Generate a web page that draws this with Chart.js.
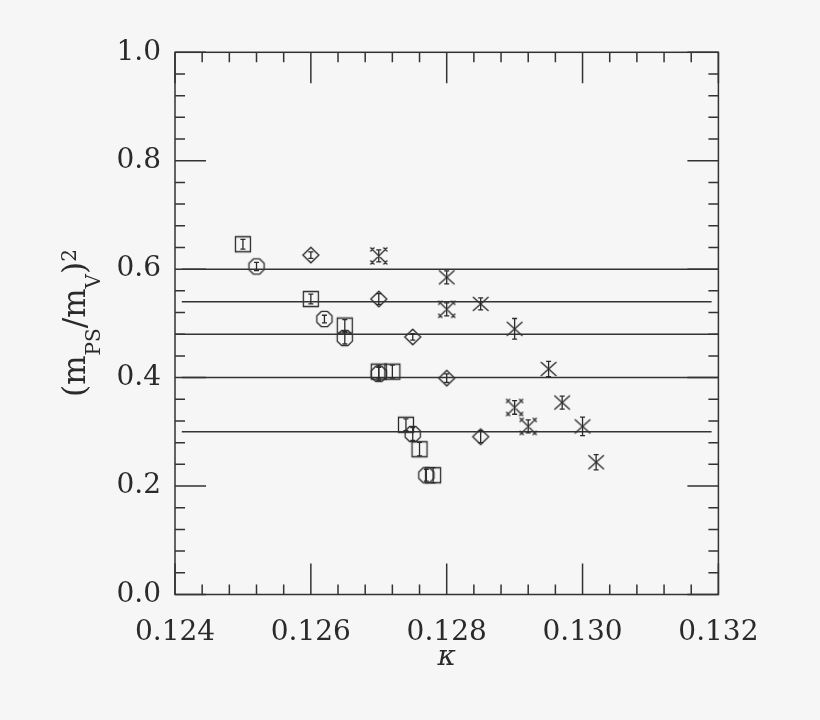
<!DOCTYPE html>
<html>
<head>
<meta charset="utf-8">
<script src="https://cdn.jsdelivr.net/npm/chart.js@4.4.0/dist/chart.umd.min.js"></script>
<style>
  html, body { margin: 0; padding: 0; background: #f6f6f6; }
  canvas { display: block; }
</style>
</head>
<body>
<canvas id="c" width="820" height="720"></canvas>
<script>
// ---------------- data ----------------
const xTicks = [0.124, 0.126, 0.128, 0.130, 0.132];
const yTicks = [0.0, 0.2, 0.4, 0.6, 0.8, 1.0];

const squareK   = [0.1250, 0.1260, 0.1265, 0.1270, 0.1272, 0.1274, 0.1276, 0.1278];
const squareV   = [0.646, 0.545, 0.496, 0.411, 0.411, 0.313, 0.268, 0.220];
const squareErr = [0.009, 0.009, 0.011, 0.012, 0.012, 0.011, 0.0125, 0.014];

const circleK   = [0.1252, 0.1262, 0.1265, 0.1270, 0.1275, 0.1277];
const circleV   = [0.605, 0.508, 0.473, 0.407, 0.296, 0.220];
const circleErr = [0.0075, 0.007, 0.011, 0.012, 0.012, 0.011];

const diamondK   = [0.1260, 0.1270, 0.1275, 0.1280, 0.1285];
const diamondV   = [0.626, 0.545, 0.475, 0.399, 0.291];
const diamondErr = [0.006, 0.010, 0.006, 0.008, 0.011];

const crossK   = [0.1280, 0.1285, 0.1290, 0.1295, 0.1297, 0.1300, 0.1302];
const crossV   = [0.585, 0.536, 0.490, 0.416, 0.354, 0.310, 0.244];
const crossErr = [0.012, 0.011, 0.019, 0.014, 0.012, 0.017, 0.014];

const starK   = [0.1270, 0.1280, 0.1290, 0.1292];
const starV   = [0.6245, 0.526, 0.345, 0.310];
const starErr = [0.011, 0.012, 0.0126, 0.012];

const lineV     = [0.60, 0.54, 0.48, 0.40, 0.30];
const lineStart = [0.1241, 0.1241, 0.1240, 0.1241, 0.1241];
const lineEnd   = [0.1320, 0.1319, 0.1320, 0.1320, 0.1319];

// ---------------- markers ----------------
const INK = '#2a2a2a';
function makeMarker(type) {
  const c = document.createElement('canvas');
  c.width = 26; c.height = 26;
  const g = c.getContext('2d');
  g.strokeStyle = INK; g.lineWidth = 1.3;
  const m = 13;
  g.beginPath();
  if (type === 'square') {
    g.rect(m - 7.5, m - 7.5, 15, 15);
  } else if (type === 'octagon') {
    const r = 8.2;
    for (let k = 0; k < 8; k++) {
      const a = Math.PI / 8 + k * Math.PI / 4;
      const px = m + r * Math.cos(a), py = m + r * Math.sin(a);
      if (k === 0) g.moveTo(px, py); else g.lineTo(px, py);
    }
    g.closePath();
  } else if (type === 'diamond') {
    g.moveTo(m - 8, m); g.lineTo(m, m - 7.8); g.lineTo(m + 8, m); g.lineTo(m, m + 7.8);
    g.closePath();
  } else if (type === 'cross') {
    g.moveTo(m - 7.8, m - 7); g.lineTo(m + 7.8, m + 7);
    g.moveTo(m + 7.8, m - 7); g.lineTo(m - 7.8, m + 7);
  } else if (type === 'star') {
    const h = 6.5, s = 2.0;
    g.moveTo(m - h, m - h); g.lineTo(m + h, m + h);
    g.moveTo(m + h, m - h); g.lineTo(m - h, m + h);
    [[-h, -h], [h, -h], [-h, h], [h, h]].forEach(([dx, dy]) => {
      g.moveTo(m + dx - s, m + dy - s); g.lineTo(m + dx + s, m + dy + s);
      g.moveTo(m + dx + s, m + dy - s); g.lineTo(m + dx - s, m + dy + s);
    });
  }
  g.stroke();
  return c;
}

function pts(ks, vs) { return ks.map((k, i) => ({ x: k, y: vs[i] })); }

const markerSets = [
  { k: squareK, v: squareV, e: squareErr, style: makeMarker('square') },
  { k: circleK, v: circleV, e: circleErr, style: makeMarker('octagon') },
  { k: diamondK, v: diamondV, e: diamondErr, style: makeMarker('diamond') },
  { k: crossK, v: crossV, e: crossErr, style: makeMarker('cross') },
  { k: starK, v: starV, e: starErr, style: makeMarker('star') }
];

const datasets = [];
lineV.forEach((v, i) => {
  datasets.push({
    type: 'line',
    data: [{ x: lineStart[i], y: v }, { x: lineEnd[i], y: v }],
    borderColor: '#333', borderWidth: 1.5, pointRadius: 0, fill: false
  });
});
markerSets.forEach((s, i) => {
  datasets.push({
    type: 'scatter',
    data: pts(s.k, s.v),
    errors: s.e,
    pointStyle: s.style,
    pointRadius: 8,
    showLine: false
  });
});

// ---------------- plugins ----------------
const bgPlugin = {
  id: 'bg',
  beforeDraw(chart) {
    const ctx = chart.ctx;
    ctx.save();
    ctx.fillStyle = '#f6f6f6';
    ctx.fillRect(0, 0, chart.width, chart.height);
    ctx.restore();
  }
};

const errPlugin = {
  id: 'errbars',
  afterDatasetsDraw(chart) {
    const ctx = chart.ctx, xs = chart.scales.x, ys = chart.scales.y;
    ctx.save();
    ctx.strokeStyle = INK; ctx.lineWidth = 1.3;
    chart.data.datasets.forEach(ds => {
      if (!ds.errors) return;
      ds.data.forEach((p, i) => {
        const px = xs.getPixelForValue(p.x);
        const y1 = ys.getPixelForValue(p.y - ds.errors[i]);
        const y2 = ys.getPixelForValue(p.y + ds.errors[i]);
        ctx.beginPath();
        ctx.moveTo(px, y1); ctx.lineTo(px, y2);
        ctx.moveTo(px - 2.5, y1); ctx.lineTo(px + 2.5, y1);
        ctx.moveTo(px - 2.5, y2); ctx.lineTo(px + 2.5, y2);
        ctx.stroke();
      });
    });
    ctx.restore();
  }
};

const framePlugin = {
  id: 'frame',
  afterDraw(chart) {
    const ctx = chart.ctx, a = chart.chartArea, xs = chart.scales.x, ys = chart.scales.y;
    ctx.save();
    ctx.strokeStyle = '#333'; ctx.lineWidth = 1.5;
    ctx.strokeRect(a.left, a.top, a.right - a.left, a.bottom - a.top);
    ctx.beginPath();
    // x ticks
    const x0 = xTicks[0], x1 = xTicks[xTicks.length - 1];
    const nx = Math.round((x1 - x0) / 0.0004);
    for (let i = 0; i <= nx; i++) {
      const v = x0 + i * 0.0004;
      const px = xs.getPixelForValue(v);
      const len = (i % 5 === 0) ? 31 : 10;
      ctx.moveTo(px, a.bottom); ctx.lineTo(px, a.bottom - len);
      ctx.moveTo(px, a.top); ctx.lineTo(px, a.top + len);
    }
    // y ticks
    const y0 = yTicks[0], y1 = yTicks[yTicks.length - 1];
    const ny = Math.round((y1 - y0) / 0.04);
    for (let i = 0; i <= ny; i++) {
      const v = y0 + i * 0.04;
      const py = ys.getPixelForValue(v);
      const len = (i % 5 === 0) ? 31 : 10;
      ctx.moveTo(a.left, py); ctx.lineTo(a.left + len, py);
      ctx.moveTo(a.right, py); ctx.lineTo(a.right - len, py);
    }
    ctx.stroke();

    // x title
    ctx.fillStyle = '#2a2a2a';
    ctx.font = 'italic 28px "DejaVu Serif"';
    ctx.textAlign = 'center'; ctx.textBaseline = 'alphabetic';
    ctx.fillText('κ', (a.left + a.right) / 2, 665);

    // y title  (m_PS / m_V)^2
    const big = '31px "DejaVu Serif"', small = '20px "DejaVu Serif"';
    const parts = [
      { t: '(m', f: big, dy: 0 },
      { t: 'PS', f: small, dy: 15 },
      { t: '/m', f: big, dy: 0 },
      { t: 'V', f: small, dy: 15 },
      { t: ')', f: big, dy: 0 },
      { t: '2', f: small, dy: -9 }
    ];
    let total = 0;
    parts.forEach(p => { ctx.font = p.f; p.w = ctx.measureText(p.t).width; total += p.w; });
    ctx.save();
    ctx.translate(85, 323);
    ctx.rotate(-Math.PI / 2);
    ctx.textAlign = 'left';
    let cx = -total / 2;
    parts.forEach(p => { ctx.font = p.f; ctx.fillText(p.t, cx, p.dy); cx += p.w; });
    ctx.restore();
    ctx.restore();
  }
};

// ---------------- chart ----------------
new Chart(document.getElementById('c'), {
  type: 'scatter',
  data: { datasets },
  options: {
    responsive: false,
    animation: false,
    devicePixelRatio: 1,
    layout: { padding: { top: 52.3, right: 101.6, left: 0, bottom: 0 } },
    plugins: { legend: { display: false }, tooltip: { enabled: false } },
    scales: {
      x: {
        type: 'linear', min: xTicks[0], max: xTicks[xTicks.length - 1],
        afterFit(s) { s.height = 125.5; },
        afterBuildTicks(s) { s.ticks = xTicks.map(v => ({ value: v })); },
        grid: { display: false, drawTicks: false },
        border: { display: false },
        ticks: {
          padding: 21, color: '#2a2a2a',
          font: { family: '"DejaVu Serif"', size: 28 },
          callback: v => v.toFixed(3)
        }
      },
      y: {
        type: 'linear', min: yTicks[0], max: yTicks[yTicks.length - 1],
        afterFit(s) { s.width = 175; },
        afterBuildTicks(s) { s.ticks = yTicks.map(v => ({ value: v })); },
        grid: { display: false, drawTicks: false },
        border: { display: false },
        ticks: {
          padding: 14, color: '#2a2a2a',
          font: { family: '"DejaVu Serif"', size: 28 },
          callback: v => v.toFixed(1)
        }
      }
    }
  },
  plugins: [bgPlugin, errPlugin, framePlugin]
});
</script>
</body>
</html>
